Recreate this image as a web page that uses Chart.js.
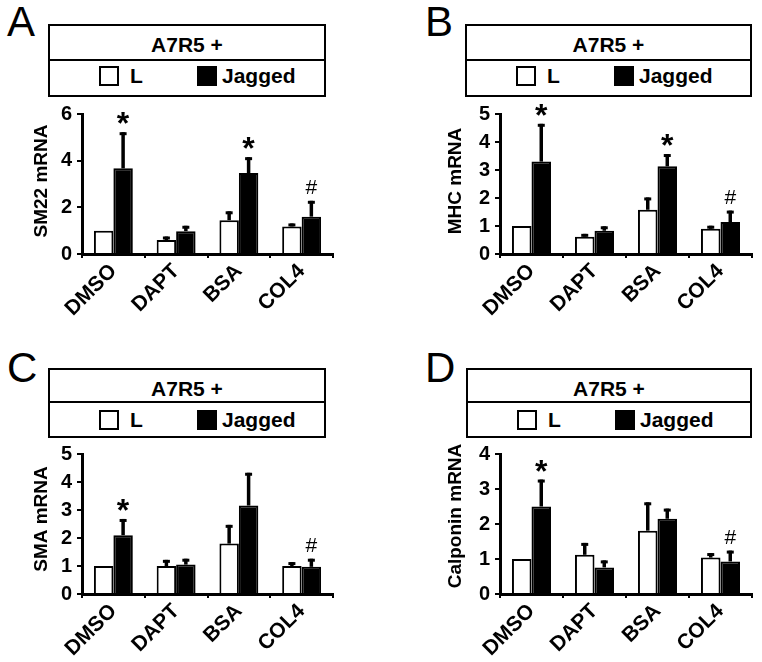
<!DOCTYPE html>
<html>
<head>
<meta charset="utf-8">
<script src="https://cdn.jsdelivr.net/npm/chart.js@4.4.1/dist/chart.umd.min.js"></script>
<style>
body{margin:0;background:#fff;font-family:"Liberation Sans",Arial,sans-serif;}
#fig{position:relative;width:762px;height:662px;overflow:hidden;background:#fff;}
.letter{position:absolute;font-size:42px;line-height:42px;color:#000;}
.leg{position:absolute;border:2px solid #000;box-sizing:border-box;font-weight:bold;font-size:21px;line-height:21px;color:#000;}
.leg .ttl{position:absolute;left:0;right:0;top:8px;text-align:center;}
.leg .sep{position:absolute;left:0;right:0;height:2px;background:#000;}
.leg .sq{position:absolute;width:20px;height:20px;box-sizing:border-box;border:2px solid #000;}
.leg .lab{position:absolute;}
canvas{position:absolute;}
</style>
</head>
<body>
<div id="fig"></div>
<script>
// categorias e series
const categories = ['DMSO', 'DAPT', 'BSA', 'COL4'];
const seriesNames = ['L', 'Jagged'];
const legendTitle = 'A7R5 +';
const panelLetters = ['A', 'B', 'C', 'D'];
const yTitles = ['SM22 mRNA', 'MHC mRNA', 'SMA mRNA', 'Calponin mRNA'];
const yMax = [6, 5, 5, 4];

// A - SM22
const sm22L = [1.0, 0.6, 1.45, 1.18];
const sm22LSd = [0, 0.15, 0.38, 0.13];
const sm22J = [3.67, 0.98, 3.47, 1.6];
const sm22JSd = [1.55, 0.23, 0.68, 0.68];
const sm22Marks = ['*', '', '*', '#'];

// B - MHC
const mhcL = [1.0, 0.62, 1.58, 0.9];
const mhcLSd = [0, 0.1, 0.44, 0.11];
const mhcJ = [3.3, 0.83, 3.13, 1.14];
const mhcJSd = [1.35, 0.16, 0.44, 0.41];
const mhcMarks = ['*', '', '*', '#'];

// C - SMA
const smaL = [1.0, 1.0, 1.8, 1.0];
const smaLSd = [0, 0.22, 0.67, 0.14];
const smaJ = [2.1, 1.05, 3.16, 0.97];
const smaJSd = [0.58, 0.21, 1.17, 0.29];
const smaMarks = ['*', '', '', '#'];

// D - Calponin
const calL = [1.0, 1.12, 1.81, 1.04];
const calLSd = [0, 0.34, 0.81, 0.13];
const calJ = [2.5, 0.76, 2.15, 0.93];
const calJSd = [0.77, 0.2, 0.29, 0.31];
const calMarks = ['*', '', '', '#'];

const seriesL = [sm22L, mhcL, smaL, calL];
const seriesLSd = [sm22LSd, mhcLSd, smaLSd, calLSd];
const seriesJ = [sm22J, mhcJ, smaJ, calJ];
const seriesJSd = [sm22JSd, mhcJSd, smaJSd, calJSd];
const marks = [sm22Marks, mhcMarks, smaMarks, calMarks];

// posicao de cada painel (canvas, eixo, titulo do eixo, legenda)
const layout = [
  {x: 0,   y: 0,   axisW: 82,  padTop: 114, padRight: 48, axisH: 77, titleX: 42, titleY: 181, letter: [7, 1],     box: [48, 24, 278, 73, 33]},
  {x: 381, y: 0,   axisW: 119, padTop: 114, padRight: 10, axisH: 77, titleX: 75, titleY: 181, letter: [425, 1],   box: [465, 24, 287, 73, 33]},
  {x: 0,   y: 331, axisW: 82,  padTop: 123, padRight: 48, axisH: 68, titleX: 42, titleY: 188, letter: [7, 347],   box: [48, 368, 278, 70, 31]},
  {x: 381, y: 331, axisW: 119, padTop: 123, padRight: 10, axisH: 68, titleX: 75, titleY: 185, letter: [425, 347], box: [466, 368, 286, 70, 31]}
];

Chart.defaults.font.family = '"Liberation Sans", Arial, sans-serif';
Chart.defaults.color = '#000';

// barras de erro + marcas (* e #) + titulo do eixo y
const errPlugin = {
  id: 'errBars',
  afterDatasetsDraw(chart) {
    const ctx = chart.ctx;
    const yScale = chart.scales.y;
    chart.data.datasets.forEach((ds, i) => {
      const meta = chart.getDatasetMeta(i);
      meta.data.forEach((bar, j) => {
        const sd = ds.sd[j];
        const top = yScale.getPixelForValue(ds.data[j] + sd);
        ctx.save();
        ctx.strokeStyle = '#000';
        if (sd > 0) {
          ctx.lineWidth = 3.5;
          ctx.beginPath();
          ctx.moveTo(bar.x, bar.y);
          ctx.lineTo(bar.x, top);
          ctx.stroke();
          ctx.lineWidth = 3;
          ctx.beginPath();
          ctx.moveTo(bar.x - 3.5, top + 1.5);
          ctx.lineTo(bar.x + 3.5, top + 1.5);
          ctx.stroke();
        }
        const mk = ds.marks ? ds.marks[j] : '';
        if (mk) {
          ctx.fillStyle = '#000';
          ctx.font = mk === '*' ? 'bold 32px "Liberation Sans", Arial' : '21px "Liberation Sans", Arial';
          ctx.textAlign = 'center';
          ctx.textBaseline = 'alphabetic';
          const m = ctx.measureText(mk);
          const cy = top - 14;
          ctx.fillText(mk, bar.x, cy + (m.actualBoundingBoxAscent - m.actualBoundingBoxDescent) / 2);
        }
        ctx.restore();
      });
    });
  },
  afterDraw(chart, args, opts) {
    const ctx = chart.ctx;
    ctx.save();
    ctx.translate(opts.x, opts.y);
    ctx.rotate(-Math.PI / 2);
    ctx.fillStyle = '#000';
    ctx.font = 'bold 19px "Liberation Sans", Arial';
    ctx.textAlign = 'center';
    ctx.textBaseline = 'middle';
    ctx.fillText(opts.text, 0, 0);
    ctx.restore();
  }
};

const fig = document.getElementById('fig');

for (let p = 0; p < 4; p++) {
  const L = layout[p];

  const letter = document.createElement('div');
  letter.className = 'letter';
  letter.style.left = L.letter[0] + 'px';
  letter.style.top = L.letter[1] + 'px';
  letter.textContent = panelLetters[p];
  fig.appendChild(letter);

  const b = L.box;
  const box = document.createElement('div');
  box.className = 'leg';
  box.style.cssText = 'left:' + b[0] + 'px;top:' + b[1] + 'px;width:' + b[2] + 'px;height:' + b[3] + 'px;';
  box.innerHTML =
    '<div class="ttl">' + legendTitle + '</div>' +
    '<div class="sep" style="top:' + b[4] + 'px"></div>' +
    '<div class="sq" style="left:49px;top:40px;background:#fff"></div>' +
    '<div class="lab" style="left:80px;top:39px">' + seriesNames[0] + '</div>' +
    '<div class="sq" style="left:147px;top:40px;background:#000"></div>' +
    '<div class="lab" style="left:172px;top:39px">' + seriesNames[1] + '</div>';
  fig.appendChild(box);

  const cv = document.createElement('canvas');
  cv.width = 381;
  cv.height = 331;
  cv.style.left = L.x + 'px';
  cv.style.top = L.y + 'px';
  fig.appendChild(cv);

  new Chart(cv, {
    type: 'bar',
    data: {
      labels: categories,
      datasets: [
        {label: seriesNames[0], data: seriesL[p], sd: seriesLSd[p], backgroundColor: '#fff', borderColor: '#000', borderWidth: 2},
        {label: seriesNames[1], data: seriesJ[p], sd: seriesJSd[p], marks: marks[p], backgroundColor: '#000', borderColor: '#000', borderWidth: 2}
      ]
    },
    options: {
      responsive: false,
      animation: false,
      devicePixelRatio: 1,
      categoryPercentage: 0.62,
      barPercentage: 1.0,
      layout: {padding: {top: L.padTop, right: L.padRight, left: 0, bottom: 0}},
      plugins: {
        legend: {display: false},
        tooltip: {enabled: false},
        errBars: {text: yTitles[p], x: L.titleX, y: L.titleY}
      },
      scales: {
        x: {
          z: 1,
          grid: {display: true, drawOnChartArea: false, drawTicks: true, tickLength: 4, offset: true, color: '#000', lineWidth: 2},
          border: {display: true, color: '#000', width: 3},
          ticks: {autoSkip: false, minRotation: 45, maxRotation: 45, padding: 1, color: '#000', font: {size: 21, weight: 'bold'}},
          afterFit(s) { s.height = L.axisH; }
        },
        y: {
          z: 1,
          min: 0,
          max: yMax[p],
          grid: {display: true, drawOnChartArea: false, drawTicks: true, tickLength: 5, color: '#000', lineWidth: 2},
          border: {display: true, color: '#000', width: 3},
          ticks: {stepSize: 1, padding: 5, color: '#000', font: {size: 20, weight: 'bold'}},
          afterFit(s) { s.width = L.axisW; }
        }
      }
    },
    plugins: [errPlugin]
  });
}
</script>
</body>
</html>
